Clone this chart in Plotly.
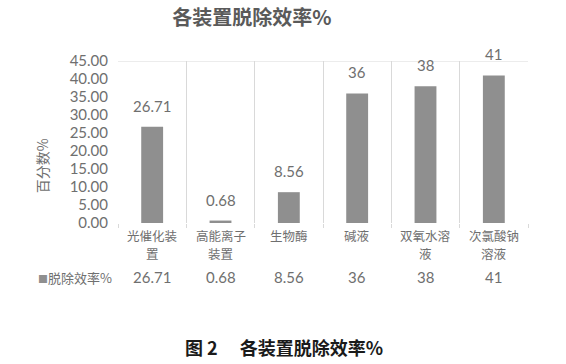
import plotly.graph_objects as go

categories = ["光催化装置", "高能离子装置", "生物酶", "碱液", "双氧水溶液", "次氯酸钠溶液"]
tick_labels = ["光催化装<br>置", "高能离子<br>装置", "生物酶", "碱液", "双氧水溶<br>液", "次氯酸钠<br>溶液"]
efficiency = [26.71, 0.68, 8.56, 36, 38, 41]
series_name = "脱除效率%"

FONT = "Noto Sans CJK SC"
NUM = "Lato"
BAR = "#8f8f8f"
TXT = "#6f6f6f"

fig = go.Figure()
fig.add_trace(go.Bar(
    x=categories, y=efficiency, width=0.32,
    marker=dict(color=BAR, line=dict(width=0)),
    name=series_name, showlegend=False,
))

# value labels above bars
for c, v in zip(categories, efficiency):
    fig.add_annotation(x=c, y=v, xref="x", yref="y", text=f"{v:g}",
                       showarrow=False, yanchor="bottom", yshift=10,
                       font=dict(family=NUM, size=15, color=TXT))

# wrapped category labels under each column, one annotation per line
for c, lab in zip(categories, tick_labels):
    for i, line in enumerate(lab.split("<br>")):
        fig.add_annotation(x=c, y=0, xref="x", yref="paper", yshift=-12 - 18 * i,
                           text=line, showarrow=False, yanchor="middle",
                           font=dict(family=FONT, size=12.5, color=TXT))

# data table row under the axis
fig.add_annotation(x=-0.2, y=0, xref="paper", yref="paper", yshift=-54,
                   text=f"<span style='color:{BAR};font-size:10px'>■</span>{series_name}",
                   showarrow=False, xanchor="left", yanchor="middle",
                   font=dict(family=FONT, size=13, color=TXT))
for c, v in zip(categories, efficiency):
    fig.add_annotation(x=c, y=0, xref="x", yref="paper", yshift=-54,
                       text=f"{v:g}", showarrow=False, yanchor="middle",
                       font=dict(family=NUM, size=15, color=TXT))

# y-axis title
fig.add_annotation(x=-0.185, y=0.352, xref="paper", yref="paper",
                   text="百分数%", textangle=-90, showarrow=False,
                   xanchor="center", yanchor="middle",
                   font=dict(family=FONT, size=14, color=TXT))

# top border of plot area
fig.add_shape(type="line", xref="paper", yref="y", x0=0, x1=1, y0=45, y1=45,
              line=dict(color="#d9d9d9", width=1))

# figure caption
fig.add_annotation(x=0.405, y=0, xref="paper", yref="paper", yshift=-124,
                   text="<b>图 2　 各装置脱除效率%</b>", showarrow=False,
                   yanchor="middle", font=dict(family=FONT, size=18, color="#1a1a1a"))

fig.update_layout(
    width=566, height=364,
    margin=dict(l=118, r=38, t=61, b=141),
    paper_bgcolor="white", plot_bgcolor="white",
    title=dict(text="<b>各装置脱除效率%</b>", x=0.445, xanchor="center",
               y=0.95, yanchor="middle",
               font=dict(family=FONT, size=20, color="#5a5a5a")),
    xaxis=dict(showgrid=True, gridcolor="#d9d9d9", gridwidth=1,
               tickson="boundaries", ticks="outside", ticklen=4, tickcolor="#d9d9d9",
               showline=False, zeroline=False, showticklabels=False),
    yaxis=dict(range=[0, 45], dtick=5, tickformat=".2f",
               showgrid=False, zeroline=False, showline=False,
               ticks="", ticklabelstandoff=9,
               tickfont=dict(family=NUM, size=15, color=TXT)),
    bargap=0.68,
)

fig.write_html("out.html")
